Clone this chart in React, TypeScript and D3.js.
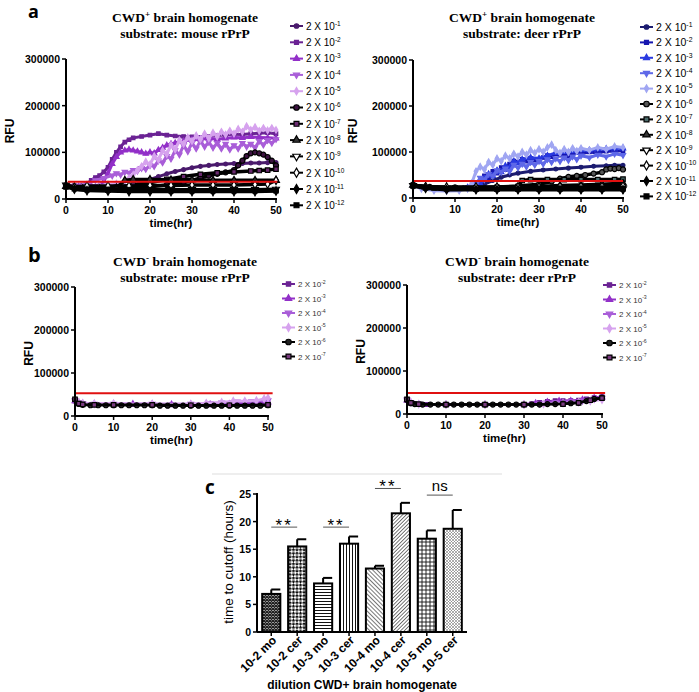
import React from 'react';
import * as d3 from 'd3';

type Pt = [number, number];

// ---- legend / series definitions ----
const exps = [-1, -2, -3, -4, -5, -6, -7, -8, -9, -10, -11, -12];

const mouseColors = ['#4a1a6c', '#6b2394', '#9230c8', '#a95ed8', '#d6a2ee', '#000', '#000', '#000', '#000', '#000', '#000', '#000'];
const mouseFills = ['#4a1a6c', '#6b2394', '#9230c8', '#a95ed8', '#d6a2ee', '#3c1240', '#6a2a70', '#333', '#fff', '#fff', '#000', '#000'];
const deerColors = ['#1c1c70', '#1616b0', '#2a3ae0', '#5e68e8', '#a0a6f2', '#000', '#000', '#000', '#000', '#000', '#000', '#000'];
const deerFills = ['#1c1c70', '#1616b0', '#2a3ae0', '#5e68e8', '#a0a6f2', '#555', '#4a6a6a', '#333', '#fff', '#fff', '#000', '#000'];
const shapes = ['circle', 'square', 'tri', 'down', 'diamond', 'circle', 'square', 'tri', 'down', 'diamond', 'diamond', 'square'];

// panel a left: CWD+ / mouse rPrP (hours, RFU)
const mouseA: Pt[][] = [
  [[0,27000],[2,24000],[5,22000],[8,22000],[10,22000],[12,23000],[14,25000],[16,30000],[18,36000],[20,42000],[22,48000],[24,54000],[26,59000],[28,63000],[30,67000],[32,70000],[34,72000],[36,74000],[38,75000],[40,76000],[42,76000],[44,77000],[46,77000],[48,78000],[50,78000]],
  [[0,30000],[2,29000],[4,30000],[5,33000],[6,40000],[7,46000],[8,50000],[9,58000],[10,68000],[11,85000],[12,100000],[13,112000],[14,122000],[15,127000],[16,131000],[18,134000],[20,137000],[22,140000],[24,137000],[26,135000],[28,134000],[30,133000],[32,132000],[34,134000],[36,136000],[38,137000],[40,139000],[42,138000],[44,140000],[46,141000],[48,142000],[50,140000]],
  [[0,28000],[3,27000],[6,28000],[8,30000],[9,38000],[10,55000],[11,75000],[12,90000],[13,100000],[14,104000],[15,106000],[16,104000],[17,102000],[18,100000],[19,97000],[20,100000],[21,98000],[22,105000],[23,110000],[24,115000],[25,118000],[26,120000],[28,124000],[30,127000],[32,128000],[34,130000],[36,128000],[38,130000],[40,132000],[42,131000],[44,133000],[46,132000],[48,131000],[50,130000]],
  [[0,28000],[3,28000],[5,32000],[7,40000],[9,45000],[11,50000],[12,55000],[13,52000],[14,58000],[15,56000],[16,62000],[17,60000],[18,66000],[19,64000],[20,72000],[21,70000],[22,82000],[23,78000],[24,92000],[25,86000],[26,104000],[27,95000],[28,115000],[29,102000],[30,120000],[31,108000],[32,125000],[33,112000],[34,122000],[35,110000],[36,120000],[37,108000],[38,118000],[39,106000],[40,115000],[41,108000],[42,120000],[43,112000],[44,118000],[45,110000],[46,124000],[47,116000],[48,126000],[49,120000],[50,128000]],
  [[0,28000],[4,26000],[8,28000],[10,30000],[12,33000],[14,38000],[15,45000],[16,52000],[17,62000],[18,70000],[19,80000],[20,74000],[21,92000],[22,84000],[23,104000],[24,96000],[25,116000],[26,106000],[27,126000],[28,118000],[29,132000],[30,124000],[31,136000],[32,128000],[33,140000],[34,130000],[35,142000],[36,134000],[37,144000],[38,138000],[39,146000],[40,140000],[41,150000],[42,144000],[43,156000],[44,148000],[45,154000],[46,146000],[47,152000],[48,147000],[49,152000],[50,148000]],
  [[0,28000],[2,24000],[5,22000],[10,22000],[15,24000],[20,26000],[24,30000],[28,36000],[30,40000],[32,45000],[34,50000],[36,54000],[38,57000],[40,62000],[41,72000],[42,82000],[43,92000],[44,98000],[45,100000],[46,98000],[47,95000],[48,90000],[49,82000],[50,72000]],
  [[0,28000],[3,24000],[8,23000],[12,25000],[16,30000],[20,35000],[24,42000],[28,48000],[32,53000],[36,56000],[40,58000],[44,60000],[46,61000],[48,62000],[50,64000]],
  [[0,27000],[4,22000],[8,22000],[12,24000],[14,40000],[16,42000],[20,42000],[25,41000],[30,41000],[35,40000],[40,40000],[45,40000],[50,40000]],
  [[0,30000],[2,25000],[5,22000],[10,21000],[15,21000],[20,20000],[25,20000],[30,20000],[35,20000],[40,20000],[45,20000],[50,21000]],
  [[0,29000],[2,26000],[5,28000],[10,28000],[15,28000],[20,29000],[25,29000],[30,30000],[35,30000],[40,30000],[45,31000],[48,32000],[50,40000]],
  [[0,27000],[2,21000],[5,18000],[10,17000],[15,16000],[20,16000],[25,16000],[30,16000],[35,16000],[40,16000],[45,16000],[50,17000]],
  [[0,26000],[2,22000],[5,20000],[10,19000],[15,19000],[20,19000],[25,18000],[30,18000],[35,18000],[40,18000],[45,18000],[50,18000]],
];

// panel a right: CWD+ / deer rPrP
const deerA: Pt[][] = [
  [[0,28000],[3,24000],[8,22000],[12,22000],[15,24000],[17,30000],[19,38000],[21,45000],[23,50000],[25,54000],[28,58000],[31,61000],[34,63000],[37,65000],[40,67000],[43,69000],[46,70000],[48,71000],[50,71000]],
  [[0,28000],[3,24000],[8,22000],[13,23000],[15,26000],[16,35000],[17,48000],[18,44000],[19,58000],[20,54000],[21,66000],[22,62000],[23,74000],[24,80000],[25,78000],[26,84000],[27,80000],[28,86000],[29,82000],[30,84000],[31,88000],[32,92000],[33,90000],[34,96000],[35,93000],[36,95000],[37,92000],[38,98000],[40,96000],[42,100000],[44,98000],[46,102000],[48,101000],[50,103000]],
  [[0,28000],[3,24000],[8,22000],[13,23000],[15,25000],[16,30000],[17,42000],[18,52000],[19,48000],[20,60000],[21,56000],[22,70000],[23,66000],[24,80000],[25,76000],[26,84000],[28,88000],[30,86000],[32,92000],[34,98000],[36,100000],[38,102000],[40,104000],[42,104000],[44,106000],[46,107000],[48,108000],[50,108000]],
  [[0,27000],[3,23000],[8,21000],[13,22000],[15,30000],[16,44000],[17,40000],[18,52000],[19,48000],[20,60000],[21,56000],[22,64000],[23,58000],[24,72000],[25,66000],[26,74000],[27,68000],[28,78000],[29,72000],[30,80000],[31,74000],[32,84000],[33,78000],[34,86000],[35,80000],[36,88000],[37,82000],[38,90000],[39,84000],[40,92000],[42,88000],[44,94000],[46,90000],[48,96000],[50,93000]],
  [[0,27000],[2,20000],[5,16000],[8,15000],[11,16000],[13,20000],[14,32000],[15,58000],[16,68000],[17,62000],[18,78000],[19,72000],[20,86000],[21,80000],[22,92000],[23,86000],[24,96000],[25,90000],[26,100000],[27,94000],[28,104000],[29,98000],[30,106000],[31,100000],[32,110000],[33,116000],[34,104000],[35,98000],[36,106000],[37,100000],[38,108000],[39,102000],[40,108000],[42,104000],[44,110000],[46,106000],[48,112000],[50,110000]],
  [[0,28000],[4,24000],[10,23000],[15,23000],[20,24000],[25,26000],[30,30000],[33,36000],[35,42000],[37,46000],[39,48000],[41,50000],[43,53000],[45,56000],[46,62000],[47,64000],[48,63000],[49,65000],[50,62000]],
  [[0,27000],[5,22000],[10,22000],[15,22000],[20,23000],[25,25000],[26,38000],[28,40000],[32,40000],[36,40000],[40,40000],[44,40000],[48,40000],[50,41000]],
  [[0,28000],[3,24000],[8,22000],[15,22000],[20,22000],[25,23000],[30,25000],[35,27000],[40,28000],[45,30000],[50,32000]],
  [[0,27000],[3,23000],[8,21000],[15,20000],[20,20000],[25,20000],[30,20000],[35,20000],[40,20000],[45,20000],[50,20000]],
  [[0,28000],[3,25000],[8,24000],[15,24000],[20,24000],[25,24000],[30,24000],[35,25000],[40,25000],[45,25000],[50,26000]],
  [[0,26000],[3,21000],[8,18000],[15,18000],[20,18000],[25,18000],[30,18000],[35,18000],[40,18000],[45,18000],[50,18000]],
  [[0,27000],[3,22000],[8,20000],[15,19000],[20,19000],[25,19000],[30,20000],[35,20000],[40,20000],[45,20000],[50,20000]],
];

// panel b: CWD- (dilutions 10^-2 .. 10^-7)
const negExps = [-2, -3, -4, -5, -6, -7];
const negColors = ['#6b2394', '#9230c8', '#a95ed8', '#d6a2ee', '#000', '#000'];
const negFills = ['#6b2394', '#9230c8', '#a95ed8', '#d6a2ee', '#222', '#7a3a80'];
const negShapes = ['square', 'tri', 'down', 'diamond', 'circle', 'square'];

const mouseB: Pt[][] = [
  [[0,35000],[1,30000],[2,28000],[5,27000],[10,27000],[15,27000],[20,27000],[25,26000],[30,26000],[35,26000],[40,27000],[45,28000],[50,30000]],
  [[0,35000],[1,31000],[2,29000],[5,28000],[10,28000],[15,28000],[20,28000],[25,27000],[30,27000],[35,27000],[40,28000],[45,29000],[50,32000]],
  [[0,36000],[1,31000],[2,29000],[5,28000],[10,28000],[20,28000],[30,28000],[35,29000],[38,31000],[42,33000],[46,34000],[50,36000]],
  [[0,37000],[1,32000],[2,30000],[5,29000],[10,29000],[20,28000],[30,28000],[34,30000],[38,32000],[41,35000],[44,35000],[47,36000],[49,40000],[50,42000]],
  [[0,38000],[1,28000],[2,26000],[4,25000],[6,25000],[8,25000],[10,25000],[12,25000],[14,25000],[16,25000],[18,25000],[20,25000],[22,24000],[24,24000],[26,24000],[28,24000],[30,24000],[32,24000],[34,24000],[36,24000],[38,24000],[40,24000],[42,24000],[44,24000],[46,24000],[48,24000],[50,25000]],
  [[0,39000],[1,29000],[2,27000],[5,26000],[10,26000],[20,26000],[30,25000],[40,25000],[50,26000]],
];

const deerB: Pt[][] = [
  [[0,32000],[1,26000],[2,24000],[5,22000],[10,22000],[20,22000],[30,22000],[32,24000],[34,27000],[36,29000],[38,31000],[40,31000],[42,31000],[44,32000],[46,35000],[48,38000],[50,40000]],
  [[0,32000],[1,26000],[3,23000],[10,22000],[20,22000],[30,22000],[33,25000],[36,28000],[39,30000],[42,30000],[45,33000],[48,37000],[50,39000]],
  [[0,33000],[1,27000],[3,23000],[10,22000],[20,22000],[30,22000],[34,24000],[38,27000],[42,29000],[45,31000],[48,35000],[50,37000]],
  [[0,33000],[1,27000],[3,23000],[10,22000],[20,22000],[30,22000],[35,23000],[40,25000],[44,27000],[47,30000],[50,33000]],
  [[0,33000],[1,25000],[2,23000],[4,22000],[6,22000],[8,22000],[10,22000],[12,22000],[14,22000],[16,22000],[18,22000],[20,22000],[22,22000],[24,22000],[26,22000],[28,22000],[30,22000],[32,22000],[34,22000],[36,23000],[38,23000],[40,24000],[42,25000],[44,26000],[46,30000],[48,35000],[50,38000]],
  [[0,34000],[1,26000],[3,23000],[10,22000],[20,22000],[30,22000],[40,23000],[44,26000],[47,32000],[50,37000]],
];

const rfuTicks = [0, 100000, 200000, 300000];
const timeTicks = [0, 10, 20, 30, 40, 50];

// panel c
const barLabels = ['10-2 mo', '10-2 cer', '10-3 mo', '10-3 cer', '10-4 mo', '10-4 cer', '10-5 mo', '10-5 cer'];
const barMeans = [6.9, 15.5, 8.8, 16.0, 11.5, 21.5, 16.9, 18.7];
const barErrs = [0.8, 1.3, 1.0, 1.3, 0.5, 1.9, 1.5, 3.4];
const cTicks = [0, 5, 10, 15, 20, 25];
const sigPairs = [
  { a: 0, b: 1, text: '**', top: 19.0 },
  { a: 2, b: 3, text: '**', top: 19.0 },
  { a: 4, b: 5, text: '**', top: 26.0 },
  { a: 6, b: 7, text: 'ns', top: 24.8 },
];

const ARIAL = 'Liberation Sans, Arial, sans-serif';
const SERIF = 'Liberation Serif, Times New Roman, serif';

function markerPath(shape: string, size: number) {
  const t = shape === 'square' ? d3.symbolSquare
    : shape === 'tri' || shape === 'down' ? d3.symbolTriangle
    : shape === 'diamond' ? d3.symbolDiamond : d3.symbolCircle;
  return d3.symbol().type(t).size(size)() as string;
}

function Marker({ x, y, shape, size, stroke, fill, sw }: any) {
  return (
    <path d={markerPath(shape, size)} transform={`translate(${x},${y})${shape === 'down' ? ' rotate(180)' : ''}`}
      fill={fill} stroke={stroke} strokeWidth={sw} />
  );
}

function Title({ x, y, sign, line2 }: { x: number; y: number; sign: string; line2: string }) {
  return (
    <g fontFamily={SERIF} fontWeight="bold" fontSize={13.5} textAnchor="middle">
      <text x={x} y={y}>CWD<tspan fontSize={9} dy={-5}>{sign}</tspan><tspan dy={5}> brain homogenate</tspan></text>
      <text x={x} y={y + 16}>{line2}</text>
    </g>
  );
}

function LinePanel(p: any) {
  const x = d3.scaleLinear().domain([0, 50]).range([p.x0, p.x1]);
  const y = d3.scaleLinear().domain([0, 300000]).range([p.y0, p.y1]);
  const line = d3.line<Pt>().x(d => x(d[0])).y(d => y(d[1]));
  const isBlack = (i: number) => p.colors[i] === '#000';
  const msOf = (i: number) => (isBlack(i) ? p.msB : p.ms);
  return (
    <g>
      {p.series.map((pts: Pt[], i: number) => (
        <g key={i}>
          <path d={line(pts) as string} fill="none" stroke={p.colors[i]} strokeWidth={isBlack(i) ? p.lwB : p.lw} strokeLinejoin="round" />
          {pts.map((d, j) => (
            <Marker key={j} x={x(d[0])} y={y(d[1])} shape={p.shapes[i]} size={msOf(i)} stroke={p.colors[i]} fill={p.fills[i]} sw={1.2} />
          ))}
        </g>
      ))}
      <line x1={x(p.cutT[0])} x2={x(p.cutT[1])} y1={y(p.cutoff)} y2={y(p.cutoff)} stroke="#e01010" strokeWidth={2} />
      {/* axes */}
      <line x1={p.x0} x2={p.x0} y1={p.y1} y2={p.y0} stroke="#000" strokeWidth={2} />
      <line x1={p.x0} x2={p.x1 + 1} y1={p.y0} y2={p.y0} stroke="#000" strokeWidth={2} />
      <g fontFamily={ARIAL} fontWeight="bold" fontSize={10.5}>
        {rfuTicks.map(t => (
          <g key={t}>
            <line x1={p.x0 - 4} x2={p.x0} y1={y(t)} y2={y(t)} stroke="#000" strokeWidth={1.5} />
            <text x={p.x0 - 6} y={y(t) + 4} textAnchor="end">{t}</text>
          </g>
        ))}
        {timeTicks.map(t => (
          <g key={t}>
            <line x1={x(t)} x2={x(t)} y1={p.y0} y2={p.y0 + 4} stroke="#000" strokeWidth={1.5} />
            <text x={x(t)} y={p.y0 + 15} textAnchor="middle">{t}</text>
          </g>
        ))}
        <text x={(p.x0 + p.x1) / 2} y={p.y0 + 28} textAnchor="middle" fontSize={11.5}>time(hr)</text>
        <text transform={`translate(${p.rfuX},${(p.y0 + p.y1) / 2 + 2}) rotate(-90)`} textAnchor="middle" fontSize={12}>RFU</text>
      </g>
      {/* legend */}
      <g fontFamily={ARIAL} fontSize={p.legFs} fill={p.legText}>
        {p.exps.map((e: number, i: number) => {
          const ly = p.legY + i * p.legDy;
          return (
            <g key={e}>
              <line x1={p.legX} x2={p.legX + 13} y1={ly} y2={ly} stroke={p.colors[i]} strokeWidth={2} />
              <Marker x={p.legX + 6.5} y={ly} shape={p.shapes[i]} size={msOf(i) + 4} stroke={p.colors[i]} fill={p.fills[i]} sw={1.2} />
              <text x={p.legX + 16} y={ly + p.legFs * 0.38}>2 X 10<tspan fontSize={p.legFs * 0.65} dy={-p.legFs * 0.4}>{e}</tspan></text>
            </g>
          );
        })}
      </g>
    </g>
  );
}

function BarPanel() {
  const x = d3.scaleBand<string>().domain(barLabels).range([257, 467]).paddingInner(0.3).paddingOuter(0.2);
  const y = d3.scaleLinear().domain([0, 25]).range([632, 494]);
  const bw = x.bandwidth();
  const cx = (i: number) => (x(barLabels[i]) as number) + bw / 2;
  return (
    <g>
      <defs>
        <pattern id="p0" width={3} height={3} patternUnits="userSpaceOnUse">
          <rect width={3} height={3} fill="#fff" />
          <path d="M0,0L3,3M3,0L0,3" stroke="#222" strokeWidth={1.3} />
        </pattern>
        <pattern id="p1" width={5} height={5} patternUnits="userSpaceOnUse" patternTransform="rotate(45)">
          <rect width={5} height={5} fill="#fff" />
          <rect width={2.5} height={2.5} fill="#111" />
          <rect x={2.5} y={2.5} width={2.5} height={2.5} fill="#111" />
        </pattern>
        <pattern id="p2" width={4} height={3} patternUnits="userSpaceOnUse">
          <rect width={4} height={3} fill="#fff" />
          <path d="M0,1.5H4" stroke="#111" strokeWidth={1} />
        </pattern>
        <pattern id="p3" width={3} height={4} patternUnits="userSpaceOnUse">
          <rect width={3} height={4} fill="#fff" />
          <path d="M1.5,0V4" stroke="#111" strokeWidth={1} />
        </pattern>
        <pattern id="p4" width={3} height={3} patternUnits="userSpaceOnUse" patternTransform="rotate(45)">
          <rect width={3} height={3} fill="#fff" />
          <path d="M0,1.5H3" stroke="#555" strokeWidth={0.8} />
        </pattern>
        <pattern id="p5" width={2.6} height={2.6} patternUnits="userSpaceOnUse" patternTransform="rotate(-45)">
          <rect width={2.6} height={2.6} fill="#fff" />
          <path d="M0,1.3H2.6" stroke="#555" strokeWidth={0.8} />
        </pattern>
        <pattern id="p6" width={4} height={4} patternUnits="userSpaceOnUse">
          <rect width={4} height={4} fill="#fff" />
          <path d="M0,2H4M2,0V4" stroke="#111" strokeWidth={0.9} />
        </pattern>
        <pattern id="p7" width={3} height={3} patternUnits="userSpaceOnUse">
          <rect width={3} height={3} fill="#fff" />
          <path d="M0,0L3,3M3,0L0,3" stroke="#777" strokeWidth={0.6} />
        </pattern>
      </defs>
      <line x1={212} x2={502} y1={474} y2={474} stroke="#ddd" strokeWidth={1} />
      <text x={205} y={494} fontFamily="Open Sans, sans-serif" fontWeight="bold" fontSize={19}>c</text>
      {barMeans.map((m, i) => (
        <g key={i}>
          <line x1={cx(i)} x2={cx(i)} y1={y(m)} y2={y(m + barErrs[i])} stroke="#000" strokeWidth={2} />
          <line x1={cx(i)} x2={cx(i) + bw / 2} y1={y(m + barErrs[i])} y2={y(m + barErrs[i])} stroke="#000" strokeWidth={2} />
          <rect x={x(barLabels[i])} y={y(m)} width={bw} height={632 - y(m)} fill={`url(#p${i})`} stroke="#000" strokeWidth={2} />
        </g>
      ))}
      <line x1={257} x2={257} y1={493} y2={632} stroke="#000" strokeWidth={2} />
      <line x1={257} x2={467} y1={632} y2={632} stroke="#000" strokeWidth={2} />
      <g fontFamily={ARIAL} fontWeight="bold" fontSize={10.5}>
        {cTicks.map(t => (
          <g key={t}>
            <line x1={253} x2={257} y1={y(t)} y2={y(t)} stroke="#000" strokeWidth={1.5} />
            <text x={251} y={y(t) + 4} textAnchor="end">{t}</text>
          </g>
        ))}
        {barLabels.map((l, i) => (
          <g key={l}>
            <line x1={cx(i)} x2={cx(i)} y1={632} y2={636} stroke="#000" strokeWidth={1.5} />
            <text transform={`translate(${cx(i) + 6},${641}) rotate(-45)`} textAnchor="end" fontSize={12}>{l}</text>
          </g>
        ))}
        <text x={362} y={689} textAnchor="middle" fontSize={12}>dilution CWD+ brain homogenate</text>
      </g>
      <text transform="translate(233,562) rotate(-90)" textAnchor="middle" fontFamily={ARIAL} fontSize={13.5}>time to cutoff (hours)</text>
      {sigPairs.map((s, i) => (
        <g key={i}>
          <line x1={cx(s.a)} x2={cx(s.b)} y1={y(s.top)} y2={y(s.top)} stroke="#555" strokeWidth={1} />
          <text x={(cx(s.a) + cx(s.b)) / 2} y={y(s.top) - (s.text === 'ns' ? 4 : -4)} textAnchor="middle" fontFamily={ARIAL}
            fontSize={s.text === 'ns' ? 15 : 17} letterSpacing={s.text === 'ns' ? 0 : 2}>{s.text}</text>
        </g>
      ))}
    </g>
  );
}

export default function App() {
  return (
    <svg width={699} height={692} style={{ position: 'absolute', left: 0, top: 0, background: '#fff' }}>
      <rect width={699} height={692} fill="#fff" />
      <text x={28} y={18} fontFamily="Open Sans, sans-serif" fontWeight="bold" fontSize={18}>a</text>
      <text x={28} y={262} fontFamily="Open Sans, sans-serif" fontWeight="bold" fontSize={20}>b</text>

      <Title x={185} y={22} sign="+" line2="substrate: mouse rPrP" />
      <Title x={522} y={22} sign="+" line2="substrate: deer rPrP" />
      <Title x={185} y={266} sign="-" line2="substrate: mouse rPrP" />
      <Title x={517} y={266} sign="-" line2="substrate: deer rPrP" />

      <LinePanel x0={66} x1={276} y0={199} y1={59} series={mouseA} colors={mouseColors} fills={mouseFills} shapes={shapes}
        exps={exps} cutoff={37000} cutT={[0.4, 50.3]} lw={3} lwB={3.5} ms={12} msB={20} rfuX={14}
        legX={290} legY={26} legDy={16.3} legFs={10} legText="#000" />
      <LinePanel x0={413} x1={623} y0={198} y1={60} series={deerA} colors={deerColors} fills={deerFills} shapes={shapes}
        exps={exps} cutoff={37000} cutT={[0, 50]} lw={3} lwB={3.5} ms={12} msB={20} rfuX={357}
        legX={640} legY={27} legDy={15.4} legFs={10.5} legText="#000" />
      <LinePanel x0={75} x1={268} y0={416} y1={287} series={mouseB} colors={negColors} fills={negFills} shapes={negShapes}
        exps={negExps} cutoff={53000} cutT={[0, 51.2]} lw={2.5} lwB={2.5} ms={14} msB={20} rfuX={33}
        legX={282} legY={284} legDy={14.5} legFs={8} legText="#333" />
      <LinePanel x0={407} x1={602} y0={414} y1={285} series={deerB} colors={negColors} fills={negFills} shapes={negShapes}
        exps={negExps} cutoff={48800} cutT={[0, 50.8]} lw={2.5} lwB={2.5} ms={14} msB={20} rfuX={365}
        legX={603} legY={285} legDy={14.5} legFs={8} legText="#333" />

      <BarPanel />
    </svg>
  );
}
